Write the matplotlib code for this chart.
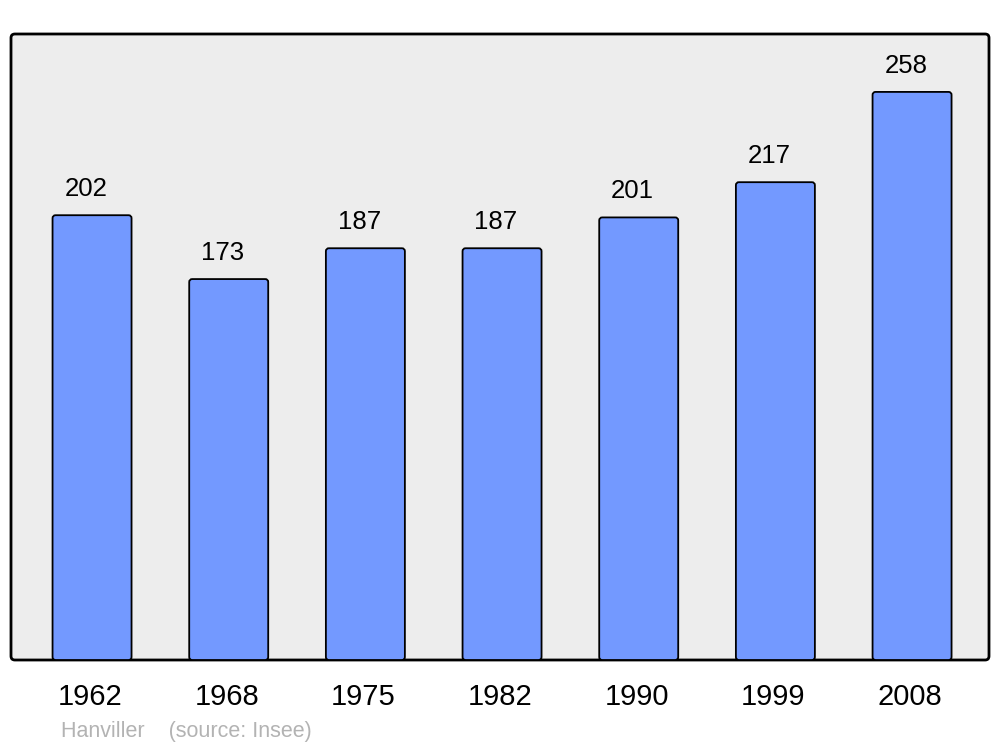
import matplotlib.pyplot as plt
from matplotlib.patches import FancyBboxPatch

years = ['1962', '1968', '1975', '1982', '1990', '1999', '2008']
population = [202, 173, 187, 187, 201, 217, 258]
footer = 'Hanviller    (source: Insee)'

plt.rcParams['font.family'] = ['Liberation Sans', 'DejaVu Sans']

W, H = 1000, 747
fig = plt.figure(figsize=(W / 100, H / 100), dpi=100)
ax = fig.add_axes([11 / W, (H - 660) / H, 978 / W, 626 / H])
ax.set_xlim(-0.593, 6.563)
ax.set_ylim(0, 284.3)
ax.axis('off')

# rounded frame with grey background
frame = FancyBboxPatch((0, 0), 1, 1, boxstyle='round,pad=0,rounding_size=0.004',
                       transform=ax.transAxes, facecolor='#ededed',
                       edgecolor='black', linewidth=2, clip_on=False, zorder=0,
                       mutation_aspect=978 / 626)
ax.add_patch(frame)

# px -> data scale factors for rounding the bar corners
xpx = 978 / (6.563 + 0.593)
ypx = 626 / 284.3

bw = 0.578
for i, v in enumerate(population):
    bar = FancyBboxPatch((i - bw / 2, 0), bw, v,
                         boxstyle='round,pad=0,rounding_size=%f' % (3 / xpx),
                         facecolor='#7399ff', edgecolor='black', linewidth=1.3,
                         mutation_aspect=xpx / ypx, zorder=2)
    ax.add_patch(bar)
    ax.text(i - 0.045, v + 26 / ypx, str(v), ha='center', va='center',
            fontsize=18.5, color='black', zorder=3)
    ax.text(i - 0.015, -37 / ypx, years[i], ha='center', va='center',
            fontsize=21, color='black', clip_on=False)

fig.text(61 / W, 1 - 732 / H, footer, ha='left', va='center',
         fontsize=15.5, color='#b3b3b3')

fig.savefig('out.png', dpi=100, facecolor='white')
